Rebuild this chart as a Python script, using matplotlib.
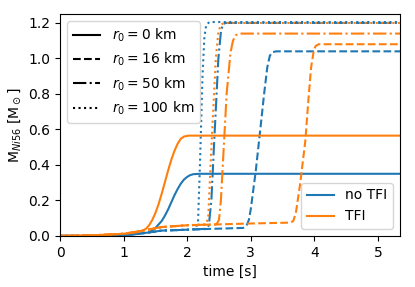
import matplotlib
matplotlib.use("Agg")
import matplotlib.pyplot as plt
from matplotlib.lines import Line2D

X_MAX = 5.35

# r0 = 0 km
t_solid_no = [0, 0.5, 1.0, 1.2, 1.4, 1.5, 1.6, 1.65, 1.7, 1.75, 1.8, 1.85, 1.9, 1.95,
              2.0, 2.05, 2.1, 2.2, X_MAX]
m_solid_no = [0, 0.001, 0.004, 0.01, 0.02, 0.045, 0.085, 0.115, 0.15, 0.19, 0.23, 0.265,
              0.295, 0.318, 0.333, 0.343, 0.348, 0.35, 0.35]
t_solid_tfi = [0, 0.5, 1.0, 1.2, 1.3, 1.35, 1.4, 1.45, 1.5, 1.55, 1.6, 1.65, 1.7, 1.75,
               1.8, 1.85, 1.9, 1.95, 2.02, X_MAX]
m_solid_tfi = [0, 0.003, 0.012, 0.02, 0.03, 0.04, 0.06, 0.09, 0.13, 0.18, 0.24, 0.305,
               0.37, 0.43, 0.48, 0.52, 0.548, 0.56, 0.565, 0.565]

# r0 = 16 km
t_dash_no = [0, 0.5, 1.0, 1.3, 1.6, 2.0, 2.4, 2.88, 2.93, 2.97, 3.0, 3.08, 3.15, 3.21,
             3.26, 3.3, 3.34, 3.4, X_MAX]
m_dash_no = [0, 0.001, 0.005, 0.015, 0.03, 0.035, 0.04, 0.045, 0.055, 0.09, 0.15, 0.37,
             0.6, 0.8, 0.95, 1.015, 1.035, 1.04, 1.04]
t_dash_tfi = [0, 0.5, 1.0, 1.3, 1.6, 2.0, 2.5, 3.0, 3.63, 3.67, 3.71, 3.78, 3.86, 3.91,
              3.95, 3.99, 4.02, 4.07, X_MAX]
m_dash_tfi = [0, 0.003, 0.012, 0.03, 0.05, 0.06, 0.065, 0.07, 0.075, 0.085, 0.13, 0.3,
              0.54, 0.78, 0.95, 1.04, 1.07, 1.08, 1.08]

# r0 = 50 km
t_dd_no = [0, 0.5, 1.0, 1.3, 1.6, 2.0, 2.3, 2.34, 2.38, 2.42, 2.49, 2.53, 2.56, 2.6, X_MAX]
m_dd_no = [0, 0.001, 0.005, 0.015, 0.03, 0.035, 0.04, 0.06, 0.2, 0.5, 1.0, 1.15, 1.19, 1.2, 1.2]
t_dd_tfi = [0, 0.5, 1.0, 1.3, 1.6, 2.0, 2.46, 2.5, 2.53, 2.56, 2.62, 2.68, 2.72, 2.76,
            2.82, X_MAX]
m_dd_tfi = [0, 0.003, 0.012, 0.03, 0.05, 0.06, 0.065, 0.09, 0.2, 0.4, 0.8, 1.03, 1.1,
            1.13, 1.14, 1.14]

# r0 = 100 km
t_dot_no = [0, 0.5, 1.0, 1.3, 1.6, 2.0, 2.13, 2.17, 2.2, 2.24, 2.27, 2.3, 2.35, X_MAX]
m_dot_no = [0, 0.001, 0.005, 0.015, 0.03, 0.035, 0.04, 0.08, 0.4, 0.9, 1.12, 1.19, 1.205, 1.205]
t_dot_tfi = [0, 0.5, 1.0, 1.3, 1.6, 2.0, 2.29, 2.33, 2.38, 2.45, 2.49, 2.53, 2.58, X_MAX]
m_dot_tfi = [0, 0.003, 0.012, 0.03, 0.05, 0.06, 0.065, 0.1, 0.5, 1.0, 1.15, 1.19, 1.2, 1.2]

radii = ["0", "16", "50", "100"]
styles = ["-", "--", "-.", ":"]
runs_no = [(t_solid_no, m_solid_no), (t_dash_no, m_dash_no), (t_dd_no, m_dd_no), (t_dot_no, m_dot_no)]
runs_tfi = [(t_solid_tfi, m_solid_tfi), (t_dash_tfi, m_dash_tfi), (t_dd_tfi, m_dd_tfi), (t_dot_tfi, m_dot_tfi)]

fig = plt.figure(figsize=(4.15, 2.87), dpi=100)
ax = fig.add_subplot(111)
fig.subplots_adjust(left=0.145, right=0.964, top=0.951, bottom=0.178)

for ls, (t, m) in zip(styles, runs_no):
    ax.plot(t, m, color="tab:blue", ls=ls, lw=1.5)
for ls, (t, m) in zip(styles, runs_tfi):
    ax.plot(t, m, color="tab:orange", ls=ls, lw=1.5)

ax.set_xlim(0, X_MAX)
ax.set_ylim(0, 1.25)
ax.set_xlabel("time [s]")
ax.set_ylabel(r"M$_{Ni56}$ [M$_\odot$]")

# legend for r0 linestyles
style_handles = [Line2D([], [], color="k", ls=ls) for ls in styles]
style_labels = [r"$r_0 = %s$ km" % r for r in radii]
leg1 = ax.legend(style_handles, style_labels, loc="upper left")
ax.add_artist(leg1)

tfi_handles = [Line2D([], [], color="tab:blue"), Line2D([], [], color="tab:orange")]
ax.legend(tfi_handles, ["no TFI", "TFI"], loc="lower right")

fig.savefig("out.png", dpi=100)
